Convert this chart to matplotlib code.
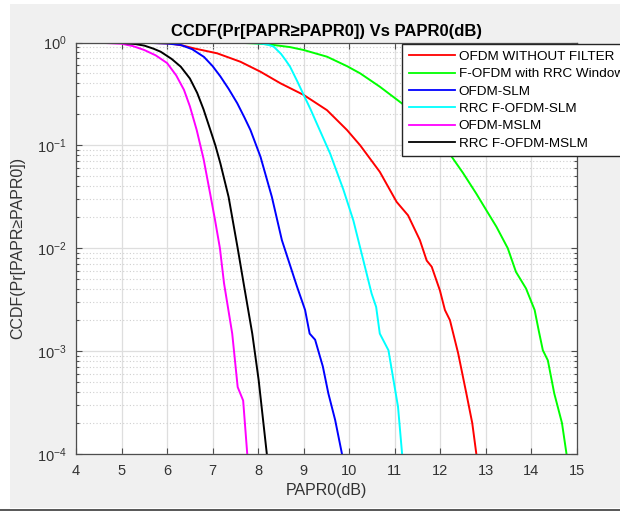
import numpy as np
import matplotlib
matplotlib.use('Agg')
import matplotlib.pyplot as plt
from matplotlib.patches import Rectangle
from matplotlib.lines import Line2D
from matplotlib.ticker import LogLocator, NullFormatter

plt.rcParams['font.family'] = ['Liberation Sans', 'DejaVu Sans']
plt.rcParams['mathtext.fontset'] = 'custom'
plt.rcParams['mathtext.rm'] = 'Liberation Sans'

# CCDF curves (x in dB, y = Pr[PAPR >= PAPR0])
x_ofdm = [4.0, 5.5, 6.08, 6.35, 6.59, 7.10, 7.61, 8.05, 8.49, 9.0, 9.51, 9.95, 10.24, 10.67, 11.04,
          11.29, 11.55, 11.70, 11.81, 11.99, 12.10, 12.21, 12.39, 12.57, 12.70, 12.79]
y_ofdm = [1, 0.995, 0.977, 0.933, 0.877, 0.785, 0.650, 0.520, 0.401, 0.309, 0.220, 0.141, 0.1, 0.0553, 0.0282,
          0.0209, 0.0120, 0.00759, 0.00661, 0.00389, 0.00251, 0.00200, 0.000955, 0.000389, 0.000200, 0.0001]

x_rrc = [4.0, 7.6, 8.0, 8.34, 8.7, 9.0, 9.51, 9.95, 10.24, 10.67, 11.15, 11.7, 12.17, 12.50, 12.79, 13.01,
         13.23, 13.48, 13.66, 13.88, 14.07, 14.16, 14.25, 14.36, 14.50, 14.67, 14.77]
y_rrc = [1, 0.993, 0.977, 0.946, 0.902, 0.845, 0.728, 0.589, 0.501, 0.372, 0.257, 0.166, 0.0871, 0.0537,
         0.0339, 0.0234, 0.0162, 0.01, 0.00589, 0.00407, 0.00251, 0.00158, 0.00102, 0.000813, 0.000389,
         0.000200, 0.0001]

x_slm = [4.0, 5.5, 6.0, 6.30, 6.55, 6.81, 7.0, 7.17, 7.35, 7.54, 7.7, 7.83, 8.05, 8.30, 8.52, 8.85,
         9.03, 9.13, 9.25, 9.42, 9.54, 9.69, 9.84]
y_slm = [1, 0.995, 0.977, 0.946, 0.861, 0.724, 0.589, 0.468, 0.355, 0.257, 0.186, 0.141, 0.0776, 0.0316,
         0.0120, 0.00427, 0.00251, 0.00148, 0.00129, 0.000708, 0.000389, 0.000214, 0.0001]

x_rrc_slm = [4.0, 7.0, 7.8, 8.05, 8.2, 8.34, 8.5, 8.6, 8.70, 8.85, 9.0, 9.15, 9.29, 9.58, 9.87, 10.09,
             10.31, 10.49, 10.59, 10.67, 10.86, 10.97, 11.07, 11.16]
y_rrc_slm = [1, 1, 0.993, 0.977, 0.955, 0.912, 0.776, 0.676, 0.582, 0.427, 0.309, 0.224, 0.162, 0.0832,
             0.0372, 0.0186, 0.00759, 0.00363, 0.00269, 0.00148, 0.00102, 0.000525, 0.000288, 0.0001]

x_mslm = [4.0, 4.5, 5.0, 5.25, 5.5, 5.75, 6.0, 6.2, 6.37, 6.5, 6.65, 6.8, 6.95, 7.05, 7.16, 7.25, 7.43,
          7.55, 7.67, 7.76]
y_mslm = [1, 0.995, 0.973, 0.923, 0.845, 0.750, 0.631, 0.479, 0.347, 0.240, 0.141, 0.0741, 0.0331, 0.0191,
          0.01, 0.00457, 0.00148, 0.000447, 0.000331, 0.0001]

x_rrc_mslm = [4.0, 5.0, 5.3, 5.5, 5.7, 5.86, 6.1, 6.30, 6.5, 6.66, 6.8, 6.95, 7.06, 7.17, 7.35, 7.55,
              7.68, 7.87, 8.01, 8.19]
y_rrc_mslm = [1, 0.991, 0.966, 0.933, 0.871, 0.813, 0.692, 0.582, 0.447, 0.324, 0.224, 0.141, 0.1, 0.0668,
              0.0316, 0.01, 0.00457, 0.00148, 0.000525, 0.0001]

series = [
    (x_ofdm, y_ofdm, '#ff0000', 'OFDM WITHOUT FILTER'),
    (x_rrc, y_rrc, '#00ff00', 'F-OFDM with RRC Window'),
    (x_slm, y_slm, '#0000ff', 'OFDM-SLM'),
    (x_rrc_slm, y_rrc_slm, '#00ffff', 'RRC F-OFDM-SLM'),
    (x_mslm, y_mslm, '#ff00ff', 'OFDM-MSLM'),
    (x_rrc_mslm, y_rrc_mslm, '#000000', 'RRC F-OFDM-MSLM'),
]

W, H = 620, 511
fig = plt.figure(figsize=(W / 100, H / 100), dpi=100, facecolor='white')
# matlab-style grey figure panel
fig.patches.append(Rectangle((10 / W, 3 / H), 1 - 10 / W, 1 - 7 / H, transform=fig.transFigure,
                             facecolor='#f0f0f0', edgecolor='none', zorder=-10))
fig.patches.append(Rectangle((0, 0), 1, 2.5 / H, transform=fig.transFigure,
                             facecolor='#5a5a5a', edgecolor='none', zorder=-9))

ax = fig.add_axes([76 / W, 1 - 454 / H, (577 - 76) / W, (454 - 42.5) / H])
ax.set_facecolor('white')

for xs, ys, col, lab in series:
    ax.plot(xs, ys, color=col, lw=1.4, label=lab, solid_joinstyle='round')

ax.set_yscale('log')
ax.set_xlim(4, 15)
ax.set_ylim(1e-4, 1)
ax.set_xticks(range(4, 16))
ax.yaxis.set_minor_locator(LogLocator(base=10, subs=np.arange(2, 10)))
ax.yaxis.set_minor_formatter(NullFormatter())

ax.grid(True, which='major', color='#dedede', lw=0.9, ls='-')
ax.grid(True, which='minor', axis='y', color='#cfcfcf', lw=0.8, ls=(0, (1, 2)))
ax.set_axisbelow(True)

for s in ax.spines.values():
    s.set_color('#4d4d4d')
    s.set_linewidth(0.9)
ax.tick_params(which='both', direction='in', top=True, right=True, colors='#4d4d4d',
               labelcolor='#333333', labelsize=10.5, width=0.8)
ax.tick_params(which='major', length=4, pad=7)
ax.tick_params(which='minor', length=2.5)

ax.set_xlabel('PAPR0(dB)', fontsize=11.5, color='#333333', labelpad=4)
ax.set_ylabel('CCDF(Pr[PAPR\u2265PAPR0])', fontsize=11.5, color='#333333', labelpad=8)
ax.set_title('CCDF(Pr[PAPR\u2265PAPR0]) Vs PAPR0(dB)', fontsize=12, fontweight='bold', pad=5)

handles = [Line2D([], [], color=c, lw=1.3) for _, _, c, _ in series]
leg = fig.legend(handles, [s[3] for s in series], loc='upper left',
                 bbox_to_anchor=(402 / W, 1 - 44 / H), bbox_transform=fig.transFigure,
                 fontsize=9.7, frameon=True, fancybox=False, borderpad=0.5,
                 labelspacing=0.36, handlelength=3.4, handletextpad=0.3, borderaxespad=0)
leg.get_frame().set_edgecolor('#262626')
leg.get_frame().set_linewidth(1.0)
leg.get_frame().set_alpha(1)

fig.savefig('out.png', dpi=100, facecolor=fig.get_facecolor())
